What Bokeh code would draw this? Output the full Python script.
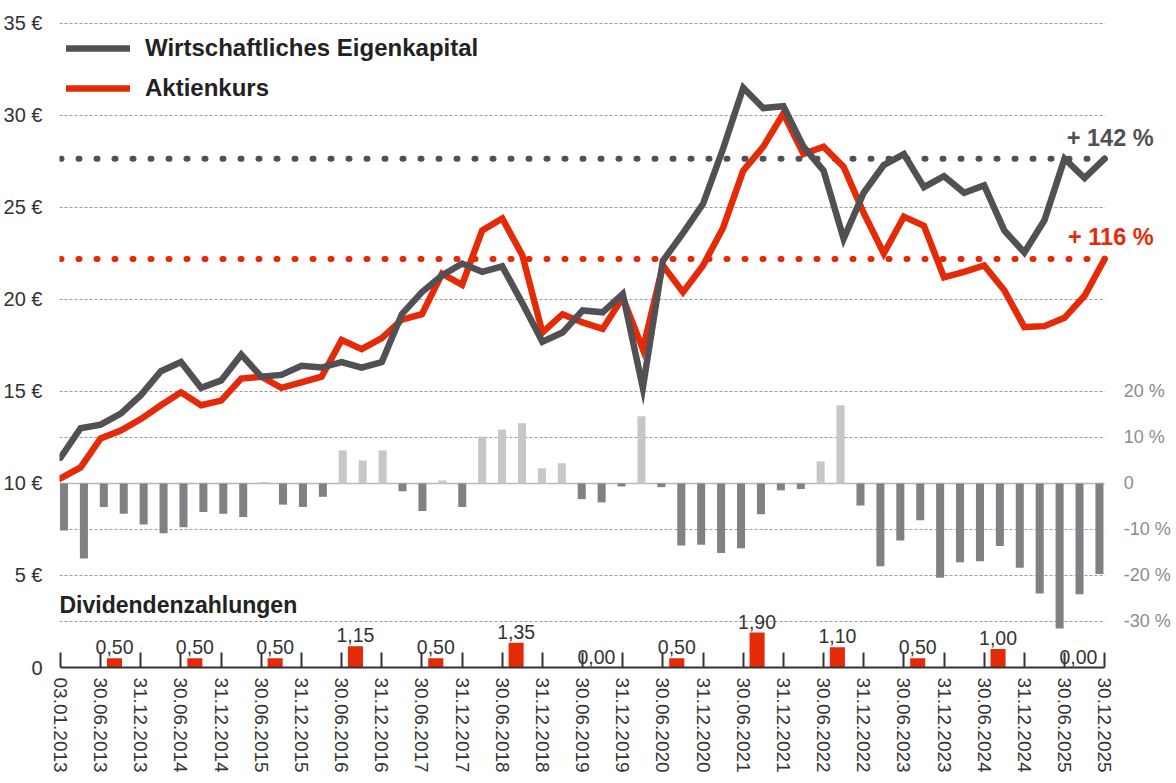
from bokeh.plotting import figure
from bokeh.models import (Range1d, LinearAxis, FixedTicker, Label, Span, Legend,
                          LegendItem, ColumnDataSource, BoxAnnotation)
from bokeh.core.properties import value
from bokeh.embed import file_html
from bokeh.resources import INLINE

# ---------------- data ----------------
date_labels = ["03.01.2013", "30.06.2013", "31.12.2013", "30.06.2014", "31.12.2014",
               "30.06.2015", "31.12.2015", "30.06.2016", "31.12.2016", "30.06.2017",
               "31.12.2017", "30.06.2018", "31.12.2018", "30.06.2019", "31.12.2019",
               "30.06.2020", "31.12.2020", "30.06.2021", "31.12.2021", "30.06.2022",
               "31.12.2022", "30.06.2023", "31.12.2023", "30.06.2024", "31.12.2024",
               "30.06.2025", "30.12.2025"]

equity = [11.4, 13.0, 13.2, 13.8, 14.8, 16.1, 16.6, 15.2, 15.6, 17.0,
          15.8, 15.9, 16.4, 16.3, 16.6, 16.3, 16.6, 19.2, 20.4, 21.3,
          21.95, 21.5, 21.8, 19.8, 17.7, 18.2, 19.4, 19.3, 20.3, 15.2,
          22.1, 23.6, 25.2, 28.2, 31.5, 30.4, 30.5, 28.3, 27.0, 23.3,
          25.8, 27.3, 27.9, 26.1, 26.7, 25.8, 26.2, 23.75, 22.55, 24.3,
          27.65, 26.6, 27.65]

share_price = [10.27, 10.87, 12.45, 12.88, 13.5, 14.25, 14.95, 14.25, 14.5, 15.7,
               15.8, 15.2, 15.5, 15.8, 17.8, 17.3, 17.9, 18.9, 19.2, 21.4,
               20.8, 23.75, 24.4, 22.4, 18.2, 19.2, 18.75, 18.4, 20.1, 17.3,
               21.85, 20.4, 21.85, 23.9, 27.0, 28.3, 30.1, 27.9, 28.3, 27.2,
               24.7, 22.5, 24.5, 24.0, 21.2, 21.5, 21.85, 20.5, 18.5, 18.55,
               19.0, 20.2, 22.2]

premium_pct = [-10.2, -16.3, -5.1, -6.6, -8.9, -10.8, -9.5, -6.2, -6.6, -7.3,
               0.3, -4.6, -5.1, -2.9, 7.2, 5.0, 7.2, -1.7, -6.0, 0.65,
               -5.1, 10.2, 11.7, 13.1, 3.3, 4.4, -3.4, -4.1, -0.65, 14.6,
               -0.8, -13.5, -13.3, -15.1, -14.1, -6.7, -1.5, -1.2, 4.8, 17.0,
               -4.8, -18.0, -12.4, -8.0, -20.5, -17.1, -16.9, -13.6, -18.3, -23.9,
               -31.5, -24.1, -19.7]

div_years = [2013, 2014, 2015, 2016, 2017, 2018, 2019, 2020, 2021, 2022, 2023, 2024, 2025]
dividends = [0.50, 0.50, 0.50, 1.15, 0.50, 1.35, 0.00, 0.50, 1.90, 1.10, 0.50, 1.00, 0.00]
div_labels = ["0,50", "0,50", "0,50", "1,15", "0,50", "1,35", "0,00",
              "0,50", "1,90", "1,10", "0,50", "1,00", "0,00"]

eur_ticks = [0, 5, 10, 15, 20, 25, 30, 35]
eur_tick_labels = ["0", "5 €", "10 €", "15 €", "20 €", "25 €", "30 €", "35 €"]
pct_ticks = [-30, -20, -10, 0, 10, 20]
pct_tick_labels = ["-30 %", "-20 %", "-10 %", "0", "10 %", "20 %"]

legend_labels = ["Wirtschaftliches Eigenkapital", "Aktienkurs"]
equity_change_label = "+ 142 %"
price_change_label = "+ 116 %"
dividend_title = "Dividendenzahlungen"

# ---------------- styling ----------------
SANS = "Liberation Sans"
GRAY = "#525055"
RED = "#e52a07"
TXT = "#333333"

n = len(equity)
q = list(range(n))
last = n - 1
Y_TOP = 35.43
PX_PER_Q = 20.08
FRAME_W = 1115

p = figure(frame_width=FRAME_W, frame_height=652, output_backend="svg",
           toolbar_location=None,
           x_range=Range1d(-0.05, -0.05 + FRAME_W / PX_PER_Q),
           y_range=Range1d(0, Y_TOP),
           min_border_left=53, min_border_right=0, min_border_top=15,
           min_border_bottom=106)
p.outline_line_color = None
p.extra_y_ranges = {"pct": Range1d((0 - 10) * 4, (Y_TOP - 10) * 4)}

# grid
p.xgrid.visible = False
p.ygrid.ticker = FixedTicker(ticks=[2.5, 5, 7.5, 12.5, 15, 20, 25, 30, 35])
p.ygrid.grid_line_color = "#9c9c9c"
p.ygrid.grid_line_dash = "3 2"
p.ygrid.grid_line_width = 1

# zero line of percent axis
p.add_layout(Span(location=0, dimension="width", y_range_name="pct",
                  line_color="#b8b8b8", line_width=1.5, level="underlay"))
# keep the area right of the last date clear of grid lines
p.add_layout(BoxAnnotation(left=last, fill_color="white", fill_alpha=1,
                           line_color=None, level="underlay"))

# left axis
ya = p.yaxis[0]
ya.ticker = FixedTicker(ticks=eur_ticks)
ya.major_label_overrides = dict(zip(eur_ticks, eur_tick_labels))
ya.axis_line_color = None
ya.major_tick_line_color = None
ya.minor_tick_line_color = None
ya.major_label_standoff = 11
ya.major_label_text_font = SANS
ya.major_label_text_font_size = "20px"
ya.major_label_text_color = TXT

# right axis (percent), anchored at the last date
ra = LinearAxis(y_range_name="pct", ticker=FixedTicker(ticks=pct_ticks),
                fixed_location=last)
ra.major_label_overrides = dict(zip(pct_ticks, pct_tick_labels))
ra.axis_line_color = None
ra.major_tick_line_color = None
ra.minor_tick_line_color = None
ra.major_label_standoff = 13
ra.major_label_text_font = SANS
ra.major_label_text_font_size = "18px"
ra.major_label_text_color = "#8c8c8c"
p.add_layout(ra, "right")

# bottom axis
xa = p.xaxis[0]
x_ticks = list(range(0, n, 2))
xa.ticker = FixedTicker(ticks=x_ticks)
xa.bounds = (0, last)
xa.major_label_overrides = dict(zip(x_ticks, date_labels))
xa.major_label_orientation = "vertical"
xa.axis_line_color = "#333333"
xa.axis_line_width = 2
xa.major_tick_line_color = "#333333"
xa.major_tick_line_width = 2
xa.major_tick_in = 15
xa.major_tick_out = 0
xa.minor_tick_line_color = None
xa.major_label_standoff = 10
xa.major_label_text_font = SANS
xa.major_label_text_font_size = "19px"
xa.major_label_text_color = TXT

# premium / discount bars
bar_step = (51.74 - 0.174) / last
bar_src = ColumnDataSource(dict(
    x=[0.174 + i * bar_step for i in q],
    top=premium_pct,
    color=["#c5c7c9" if v > 0 else "#818085" for v in premium_pct],
))
p.vbar(x="x", top="top", bottom=0, width=0.4, fill_color="color", line_color=None,
       y_range_name="pct", source=bar_src)

# dividends
div_x = [4 * (yr - div_years[0]) + 2.69 for yr in div_years]
p.vbar(x=div_x, top=dividends, bottom=0, width=0.75, fill_color=RED, line_color=None)
p.text(x=div_x, y=dividends, text=div_labels, text_align="center",
       text_baseline="alphabetic", y_offset=-11, text_font=value(SANS),
       text_font_size="19.5px", text_color=TXT)

# dotted reference lines at the final values
p.line(x=[0, last], y=[equity[-1]] * 2, line_color=GRAY, line_width=6,
       line_dash="1 17", line_cap="round")
p.line(x=[0, last], y=[share_price[-1]] * 2, line_color=RED, line_width=6,
       line_dash="1 17", line_cap="round")

# main lines
r_px = p.line(q, share_price, line_color=RED, line_width=6.5, line_join="miter",
              line_cap="round")
r_eq = p.line(q, equity, line_color=GRAY, line_width=6.5, line_join="miter",
              line_cap="round")

legend = Legend(items=[LegendItem(label=legend_labels[0], renderers=[r_eq]),
                       LegendItem(label=legend_labels[1], renderers=[r_px])],
                location=(7, 564), glyph_width=64, glyph_height=30, label_height=30,
                spacing=10, padding=0, margin=0, label_standoff=15,
                border_line_color=None, background_fill_alpha=0,
                label_text_font=SANS, label_text_font_style="bold",
                label_text_font_size="24px", label_text_color="#222222")
p.add_layout(legend)

# change annotations
p.add_layout(Label(x=last, y=equity[-1], text=equity_change_label, x_offset=49,
                   y_offset=21, text_align="right", text_baseline="middle",
                   text_font=SANS, text_font_style="bold", text_font_size="23.5px",
                   text_color=GRAY))
p.add_layout(Label(x=last, y=share_price[-1], text=price_change_label, x_offset=49,
                   y_offset=22, text_align="right", text_baseline="middle",
                   text_font=SANS, text_font_style="bold", text_font_size="23.5px",
                   text_color=RED))

# dividend title
p.add_layout(Label(x=0, y=3.37, text=dividend_title, x_offset=-1, text_align="left",
                   text_baseline="middle", text_font=SANS, text_font_style="bold",
                   text_font_size="23px", text_color="#222222"))

open("out.html", "w").write(file_html(p, INLINE))
